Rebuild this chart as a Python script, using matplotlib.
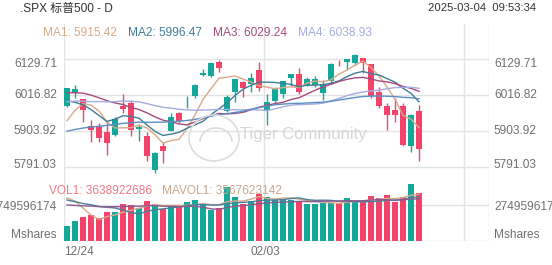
import matplotlib
matplotlib.use('Agg')
import matplotlib.pyplot as plt
import matplotlib.patches as mpatches
import numpy as np
import pandas as pd

plt.rcParams['font.family'] = ['Liberation Sans', 'Noto Sans CJK SC', 'DejaVu Sans']

# closes before the visible window (needed for the moving averages)
hist_close = [5708.75, 5709.54, 5699.94, 5751.07, 5695.94, 5751.13, 5792.04, 5780.05, 5815.03, 5859.85,
              5815.26, 5842.47, 5841.47, 5864.67, 5853.98, 5851.20, 5797.42, 5809.86, 5808.12, 5823.52,
              5832.92, 5813.67, 5705.45, 5728.80, 5712.69, 5782.76, 5929.04, 5973.10, 5995.54, 6001.35,
              5983.99, 5985.38, 5949.17, 5870.62, 5893.62, 5916.98, 5917.11, 5948.71, 5969.34, 5987.37,
              6021.63, 5998.74, 6032.38, 6047.15, 6049.88, 6086.49, 6075.11, 6090.27, 6052.85, 6034.91,
              6084.19, 6051.25, 6051.09, 6074.08, 6050.61, 5872.16, 5867.08, 5930.85, 5974.07]
# volumes before the window (billions), estimated from where the MAVOL lines start
hist_volume = [2.2, 2.5, 2.3, 2.6, 2.4, 2.2, 2.5, 2.3, 2.4, 2.3,
               2.8, 3.2, 2.9, 3.1, 2.9, 2.65, 4.5, 4.62, 3.48]

dates = ['12/24', '12/26', '12/27', '12/30', '12/31', '01/02', '01/03', '01/06', '01/07', '01/08',
         '01/10', '01/13', '01/14', '01/15', '01/16', '01/17', '01/21', '01/22', '01/23', '01/24',
         '01/27', '01/28', '01/29', '01/30', '01/31', '02/03', '02/04', '02/05', '02/06', '02/07',
         '02/10', '02/11', '02/12', '02/13', '02/14', '02/18', '02/19', '02/20', '02/21', '02/24',
         '02/25', '02/26', '02/27', '02/28', '03/03']
opens = [5984.63, 6024.97, 6006.17, 5920.67, 5919.74, 5903.26, 5891.07, 5982.81, 5993.26, 5910.66,
         5890.00, 5782.30, 5859.10, 5905.21, 5960.50, 5995.18, 6014.12, 6081.39, 6076.31, 6121.43,
         5969.04, 6026.97, 6057.70, 6050.75, 6096.79, 5969.65, 5998.14, 6020.45, 6072.22, 6083.13,
         6046.40, 6049.32, 6025.08, 6060.59, 6115.52, 6121.60, 6117.76, 6134.50, 6114.10, 6026.69,
         5982.73, 5970.87, 5981.88, 5856.74, 5968.33]
highs = [6040.10, 6049.75, 6006.17, 5940.79, 5929.74, 5935.09, 5949.34, 6021.04, 6000.68, 5927.89,
         5903.00, 5838.00, 5871.92, 5960.61, 5964.69, 6014.96, 6051.51, 6100.81, 6118.73, 6128.18,
         6017.17, 6069.45, 6062.83, 6086.64, 6120.91, 6022.13, 6042.48, 6062.86, 6084.03, 6101.28,
         6073.38, 6076.28, 6063.49, 6116.91, 6127.47, 6129.63, 6147.43, 6134.50, 6114.82, 6043.65,
         5992.65, 6009.82, 5993.69, 5959.40, 5986.09]
lows = [5981.44, 6007.37, 5932.95, 5869.16, 5868.86, 5829.53, 5888.66, 5960.01, 5890.68, 5874.78,
        5809.29, 5773.31, 5805.59, 5905.21, 5930.47, 5978.44, 6006.88, 6076.13, 6074.67, 6088.74,
        5962.92, 5994.33, 6012.96, 6027.46, 6030.93, 5923.93, 5990.87, 6007.06, 6046.83, 6019.96,
        6044.84, 6042.34, 6003.00, 6051.03, 6107.62, 6099.51, 6111.15, 6088.00, 6008.56, 5977.83,
        5908.49, 5932.69, 5858.78, 5837.66, 5810.91]
closes = [6040.04, 6037.59, 5970.84, 5906.94, 5881.63, 5868.55, 5942.47, 5975.38, 5909.03, 5918.25,
          5827.04, 5836.22, 5842.91, 5949.91, 5937.34, 5996.66, 6049.24, 6086.37, 6118.71, 6101.24,
          6012.28, 6067.70, 6039.31, 6071.17, 6040.53, 5994.57, 6037.88, 6061.48, 6083.57, 6025.99,
          6066.44, 6068.50, 6051.97, 6115.07, 6114.63, 6129.58, 6144.15, 6117.52, 6013.13, 5983.25,
          5955.25, 5956.06, 5861.57, 5954.50, 5849.72]
# volume, billions of shares
volumes = [1.15, 1.53, 1.81, 1.96, 1.78, 2.24, 2.19, 2.83, 2.72, 2.52,
           3.06, 2.83, 2.42, 2.75, 2.57, 3.00, 3.11, 2.85, 2.37, 2.52,
           4.15, 3.38, 2.83, 3.08, 3.57, 3.34, 3.18, 3.23, 3.13, 3.06,
           2.83, 2.83, 2.93, 2.93, 2.88, 3.28, 3.03, 2.98, 3.44, 3.28,
           3.51, 3.00, 3.34, 4.35, 3.639]
vol1_text = 3638922686
mavol1_text = 3567623142

price_ticks = [6129.71, 6016.82, 5903.92, 5791.03]
price_tick_labels = ['6129.71', '6016.82', '5903.92', '5791.03']
vol_tick = 2749596174
ma_windows = [5, 10, 20, 30, 60]
ma_names = ['MA1', 'MA2', 'MA3', 'MA4']
mavol_windows = [5, 10, 20]

GREEN = '#14a89b'
RED = '#f3436a'
GRID = '#e3e3e3'
TXT = '#707070'
ma_colors = ['#d8a987', '#3f7d96', '#a64a7b', '#a6abe0', '#5a8fc4']
mavol_colors = ['#d8a987', '#4a7f9c', '#8c5a90']

W, H = 552, 265
fig = plt.figure(figsize=(W / 100, H / 100), dpi=100)


def px_rect(x0, y0, x1, y1):
    return [x0 / W, 1 - y1 / H, (x1 - x0) / W, (y1 - y0) / H]


ax = fig.add_axes(px_rect(64, 24, 489, 178))
axv = fig.add_axes(px_rect(64, 178, 489, 241))

n = len(closes)
x = np.arange(n)
o = np.array(opens); h = np.array(highs); l = np.array(lows); c = np.array(closes)
up = c >= o
cols = np.where(up, GREEN, RED)

all_close = pd.Series(hist_close + closes)
ma_vals = [all_close.rolling(w).mean().to_numpy()[-n:] for w in ma_windows]

# candles
ax.vlines(x, l, h, colors=cols, linewidth=1, zorder=3)
body_lo = np.minimum(o, c)
body_h = np.maximum(np.abs(c - o), 0.6)
ax.bar(x, body_h, bottom=body_lo, width=0.75, color=cols, linewidth=0, zorder=4)

for vals, col in zip(ma_vals, ma_colors):
    ax.plot(x, vals, color=col, linewidth=1, zorder=5)

xlim = (-0.375, 52.75)
ylim = (5757.5, 6240.4)
for a in (ax, axv):
    a.set_xlim(xlim)
    for s in a.spines.values():
        s.set_visible(False)
    a.set_xticks([]); a.set_yticks([])
    for xv in (-0.375, 24.625, 49.625, 52.7):
        a.axvline(xv, color=GRID, linewidth=1, zorder=0)
ax.set_ylim(ylim)
for t in price_ticks:
    ax.axhline(t, color=GRID, linewidth=1, zorder=0)

for i, (t, lab) in enumerate(zip(price_ticks, price_tick_labels)):
    dy = -4.5 if i == 0 else (2 if i == len(price_ticks) - 1 else 0)
    ax.annotate(lab, (xlim[0], t), xytext=(-7, dy), textcoords='offset pixels',
                ha='right', va='center', fontsize=8.6, color=TXT, annotation_clip=False)
    ax.annotate(lab, (xlim[1], t), xytext=(5, dy), textcoords='offset pixels',
                ha='left', va='center', fontsize=8.6, color=TXT, annotation_clip=False)

# volume panel
vol = np.array(volumes) * 1e9
axv.bar(x, vol, width=0.75, color=cols, linewidth=0, zorder=3)
all_vol = pd.Series(hist_volume + volumes) * 1e9
for w, col in zip(mavol_windows, mavol_colors):
    axv.plot(x, all_vol.rolling(w).mean().to_numpy()[-n:], color=col, linewidth=1, zorder=4)
axv.set_ylim(0, vol_tick * 63 / 36)
axv.axhline(vol_tick, color=GRID, linewidth=1, zorder=0)
axv.axhline(0, color=GRID, linewidth=1, zorder=0)
for xe, dx, ha in ((xlim[0], -7, 'right'), (xlim[1], 5, 'left')):
    axv.annotate(str(vol_tick), (xe, vol_tick), xytext=(dx, -2.5), textcoords='offset pixels',
                 ha=ha, va='center', fontsize=8.6, color=TXT, annotation_clip=False)
    axv.annotate('Mshares', (xe, 0), xytext=(dx, 5.5), textcoords='offset pixels',
                 ha=ha, va='center', fontsize=8.6, color=TXT, annotation_clip=False)

# date labels
axv.annotate(dates[0], (xlim[0], 0), xytext=(0, -11), textcoords='offset pixels',
             ha='left', va='center', fontsize=8.6, color=TXT, annotation_clip=False)
axv.annotate(dates[25], (24.625, 0), xytext=(1, -11), textcoords='offset pixels',
             ha='center', va='center', fontsize=8.6, color=TXT, annotation_clip=False)


def ftext(px, py, s, **kw):
    fig.text(px / W, 1 - py / H, s, va='center', **kw)


ftext(20, 9, '.SPX 标普500 - D', fontsize=8.6, color='#333333')
ftext(536, 8, '2025-03-04  09:53:34', fontsize=8.1, color='#333333', ha='right')
for i, name in enumerate(ma_names):
    ftext(43 + 85 * i, 33.5, '%s: %.2f' % (name, ma_vals[i][-1]), fontsize=8.6, color=ma_colors[i])
ftext(49, 190.5, 'VOL1: %d' % vol1_text, fontsize=8.6, color='#f07884')
ftext(162, 190.5, 'MAVOL1: %d' % mavol1_text, fontsize=8.6, color='#c9a78c')

# watermark
ftext(240, 134, 'Tiger Community', fontsize=12, color='#d6d6d6', zorder=1)
cx, cy = 214 / W, 1 - 138 / H
fig.patches.append(mpatches.Ellipse((cx, cy), 50 / W, 46 / H, transform=fig.transFigure,
                                    fill=False, edgecolor='#dcdcdc', linewidth=1.2, zorder=1))
fig.patches.append(mpatches.Arc((cx + 2 / W, cy - 4 / H), 32 / W, 28 / H, theta1=0, theta2=180,
                                transform=fig.transFigure, edgecolor='#dcdcdc', linewidth=1.2, zorder=1))

fig.savefig('out.png', dpi=100)
